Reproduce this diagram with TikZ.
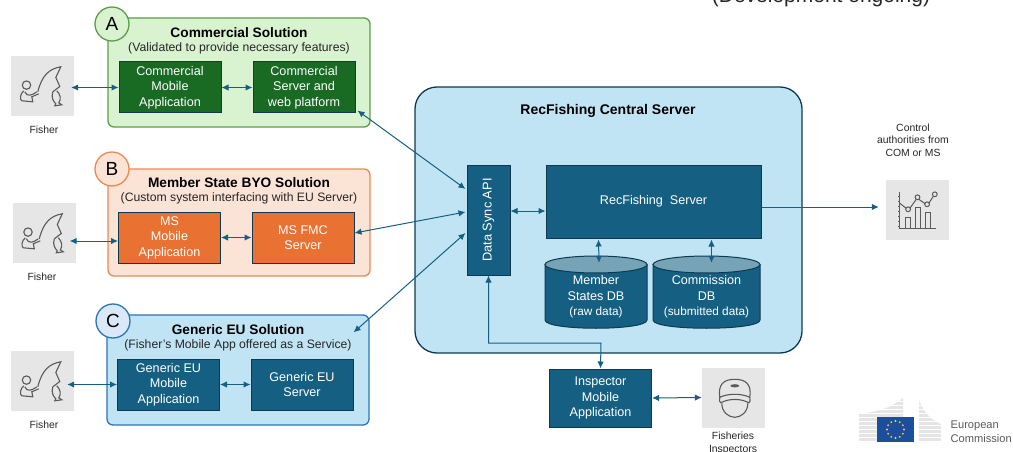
\documentclass[tikz,border=0pt]{standalone}
\usepackage{fontspec}
\setmainfont{Liberation Sans}
\usetikzlibrary{arrows.meta}

\definecolor{teal}{HTML}{156082}
\definecolor{navy}{HTML}{0E3A50}
\definecolor{leaf}{HTML}{196B24}
\definecolor{leafpale}{HTML}{D9F2D0}
\definecolor{leafline}{HTML}{5C9E4A}
\definecolor{rust}{HTML}{E97132}
\definecolor{rustpale}{HTML}{FBE3D6}
\definecolor{rustline}{HTML}{E98A55}
\definecolor{skypale}{HTML}{C1E4F5}
\definecolor{skyline}{HTML}{2E75B6}
\definecolor{skycircle}{HTML}{DAE8F7}
\definecolor{iconbg}{HTML}{E6E6E6}
\definecolor{iconink}{HTML}{5A5A5A}
\definecolor{inktext}{HTML}{262626}
\definecolor{flagblue}{HTML}{1B4F9C}
\definecolor{flagstar}{HTML}{F5D90A}

\tikzset{
  solution/.style={rounded corners=6pt,line width=1.3pt,minimum width=262pt,minimum height=#1},
  appbox/.style={draw=navy,fill=teal,line width=1pt,text=white,align=center,minimum width=102pt,minimum height=51pt,inner sep=0pt,font=\fontsize{12.6}{15.5}\selectfont},
  badge/.style={circle,line width=1.3pt,minimum size=34pt,inner sep=0pt,font=\fontsize{19}{19}\selectfont},
  title/.style={text=black,font=\fontsize{13.7}{16}\selectfont\bfseries},
  subtitle/.style={text=inktext,font=\fontsize{12.2}{14}\selectfont},
  caption/.style={text=inktext,align=center,font=\fontsize{10.4}{12.4}\selectfont},
  iconbox/.style={fill=iconbg,minimum width=63pt,minimum height=60pt,inner sep=0pt},
  drum/.style={draw=navy,line width=1pt},
  storetext/.style={text=white,align=center,inner sep=0pt,minimum width=102pt,minimum height=62pt,font=\fontsize{12.6}{15.5}\selectfont},
  flow/.style={<->,>={Latex[length=7pt,width=6.5pt]},draw=teal,line width=1pt},
  fisher/.pic={
    \draw[iconink,line width=1.1pt] (15.7,29.3) circle (4.2);
    \draw[iconink,line width=1.1pt] (13,35) .. controls (9,38) and (9,44) .. (11,45) -- (22,46) -- (21,41) -- (28,38);
    \draw[iconink,line width=1.1pt] (14,36) .. controls (16,41) and (21,40) .. (26,36);
    \draw[iconink,line width=1.1pt] (27,36) .. controls (31,20) and (38,13) .. (50,11) -- (45,21.7) -- (49,30.7) -- (42,36);
    \draw[iconink,line width=1.1pt] (42,36) .. controls (40,42) and (43,46) .. (45,48) -- (44,50) -- (51,49) -- (48,47) .. controls (51,43) and (49,38) .. (46,35);
  },
  cap/.pic={
    \draw[iconink,line width=1.1pt] (18,30) .. controls (16,17) and (22,12) .. (33,12) .. controls (44,12) and (50,17) .. (48,30) .. controls (40,26) and (26,26) .. (18,30) -- cycle;
    \draw[iconink,line width=1.1pt] (18,30) .. controls (17,33) and (18,35) .. (19,35.5) .. controls (27,31) and (39,31) .. (47,35.5) .. controls (48,35) and (49,33) .. (48,30);
    \draw[iconink,line width=1.1pt] (20,36) .. controls (20,45) and (27,50) .. (33,50) .. controls (39,50) and (46,45) .. (46,36);
    \fill[iconink] (33,18.5) ellipse (4.5 and 1.6);
  },
  chart/.pic={
    \draw[iconink,line width=1pt] (14,13) -- (14,49) -- (50.5,49);
    \foreach \ty in {17,22,27,32,37,42,47} {\draw[iconink,line width=.7pt] (12.5,\ty) -- (14,\ty);}
    \draw[iconink,line width=1pt] (19.5,49) -- (19.5,38) -- (25,38) -- (25,49);
    \draw[iconink,line width=1pt] (29.5,49) -- (29.5,28) -- (35,28) -- (35,49);
    \draw[iconink,line width=1pt] (39.5,49) -- (39.5,33) -- (45,33) -- (45,49);
    \draw[iconink,line width=1pt] (14,24) -- (20.5,29) (24,29) -- (30.5,20) (33,20) -- (39.5,24.5) (43,24) -- (47.5,17);
    \foreach \tx/\ty in {22.3/30,31.7/18,41.3/25,49/15} {\draw[iconink,line width=1pt] (\tx,\ty) circle (2.4);}
  }
}

\begin{document}
\begin{tikzpicture}[x=1pt,y=-1pt]
  \useasboundingbox (0,0) rectangle (1013,452);

  \node[anchor=base,inner sep=0pt,text=inktext,font=\fontsize{21}{23}\selectfont] (note) at (821,3) {(Development ongoing)};

  % solution A
  \node[solution=109pt,draw=leafline,fill=leafpale] (boxA) at (239,72.5) {};
  \node[badge,draw=leafline,fill=leafpale] (badgeA) at (112,24) {A};
  \node[title] (titleA) at (239,32.5) {Commercial Solution};
  \node[subtitle] (subA) at (239,48) {(Validated to provide necessary features)};
  \node[appbox,fill=leaf] (mobileA) at (170,87.5) {Commercial\\Mobile\\Application};
  \node[appbox,fill=leaf] (serverA) at (304,87.5) {Commercial\\Server and\\web platform};
  \node[iconbox] (fisherA) at (42.5,86) {};
  \pic at (fisherA.north west) {fisher};
  \node[caption] (labelA) at (44,130) {Fisher};

  % solution B
  \node[solution=107pt,draw=rustline,fill=rustpale] (boxB) at (239,222.5) {};
  \node[badge,draw=rustline,fill=rustpale] (badgeB) at (112,169) {B};
  \node[title] (titleB) at (239,182.5) {Member State BYO Solution};
  \node[subtitle] (subB) at (239,198) {(Custom system interfacing with EU Server)};
  \node[appbox,fill=rust] (mobileB) at (169.5,237.5) {MS\\Mobile\\Application};
  \node[appbox,fill=rust] (serverB) at (303,237.5) {MS FMC\\Server};
  \node[iconbox] (fisherB) at (44,233) {};
  \pic at (fisherB.north west) {fisher};
  \node[caption] (labelB) at (42,277) {Fisher};

  % solution C
  \node[solution=110pt,draw=skyline,fill=skypale] (boxC) at (238,370) {};
  \node[badge,draw=skyline,fill=skycircle] (badgeC) at (113,321) {C};
  \node[title] (titleC) at (238,330) {Generic EU Solution};
  \node[subtitle] (subC) at (238,345.5) {(Fisher's Mobile App offered as a Service)};
  \node[appbox] (mobileC) at (168.5,384.5) {Generic EU\\Mobile\\Application};
  \node[appbox] (serverC) at (302,384.5) {Generic EU\\Server};
  \node[iconbox] (fisherC) at (42.5,381) {};
  \pic at (fisherC.north west) {fisher};
  \node[caption] (labelC) at (44,425) {Fisher};

  % central server
  \node[draw=navy,fill=skypale,line width=1.3pt,rounded corners=22pt,minimum width=387pt,minimum height=266pt] (central) at (608.5,220) {};
  \node[title,font=\fontsize{14}{16}\selectfont\bfseries] (centraltitle) at (608,111) {RecFishing Central Server};
  \node[appbox,minimum width=43pt,minimum height=110pt] (syncapi) at (488.5,220) {};
  \node[text=white,rotate=90,font=\fontsize{12.8}{15}\selectfont] (syncapilabel) at (syncapi) {Data Sync API};
  \node[appbox,minimum width=215pt,minimum height=73pt] (recserver) at (653.5,201.5) {RecFishing\ \ Server};

  % the two databases
  \foreach \cx/\hw in {596/51,706.5/53.5} {
    \draw[drum,fill=teal] (\cx-\hw,264.5) -- (\cx-\hw,320) .. controls (\cx-\hw,331) and (\cx+\hw,331) .. (\cx+\hw,320) -- (\cx+\hw,264.5) -- cycle;
    \draw[drum,fill=teal!58!white] (\cx,264.5) ellipse ({\hw} and 8.5);
  }
  \node[storetext] (dbmember) at (596,297) {Member\\States DB\\{\fontsize{11.8}{13}\selectfont (raw data)}};
  \node[storetext,minimum width=107pt] (dbcommission) at (706.5,297) {Commission\\DB\\{\fontsize{11.8}{13}\selectfont (submitted data)}};

  % inspector and authorities
  \node[appbox,minimum height=58pt] (inspector) at (600.5,398) {Inspector\\Mobile\\Application};
  \node[iconbox] (inspectoricon) at (733.5,397.5) {};
  \pic at (inspectoricon.north west) {cap};
  \node[caption] (inspectorlabel) at (733,443.5) {Fisheries\\Inspectors};
  \node[iconbox] (authority) at (917.5,209.5) {};
  \pic at (authority.north west) {chart};
  \node[caption] (authoritylabel) at (913,140) {Control\\authorities from\\COM or MS};

  % connectors
  \draw[flow] ([shift={(-3,1.5)}]fisherA.east) -- (mobileA.west);
  \draw[flow] (mobileA.east) -- (serverA.west);
  \draw[flow] ([shift={(-6,8)}]fisherB.east) -- ([shift={(0,3.5)}]mobileB.west);
  \draw[flow] (mobileB.east) -- (serverB.west);
  \draw[flow] ([shift={(-7,3.5)}]fisherC.east) -- (mobileC.west);
  \draw[flow] (mobileC.east) -- (serverC.west);
  \draw[flow] ([shift={(2,-3)}]serverA.south east) -- ([shift={(-1,-31)}]syncapi.west);
  \draw[flow] ([shift={(0,-4.5)}]serverB.east) -- ([shift={(-1,-8)}]syncapi.west);
  \draw[flow] ([shift={(-16,18)}]boxC.north east) -- ([shift={(-1,13)}]syncapi.west);
  \draw[flow] ([shift={(0,-9)}]syncapi.east) -- ([shift={(0,9.5)}]recserver.west);
  \draw[flow] ([shift={(53,1)}]recserver.south west) -- ([shift={(3,-3)}]dbmember.north);
  \draw[flow] ([shift={(166,1)}]recserver.south west) -- ([shift={(5,-3)}]dbcommission.north);
  \coordinate (bend) at (601,343);
  \draw[flow] (syncapi.south) |- (bend) -- (inspector.north);
  \draw[flow] (inspector.east) -- (inspectoricon.west);
  \draw[flow,<-] ([shift={(-7,-2.5)}]authority.west) -- ([shift={(0,5.5)}]recserver.east);

  % logo
  \fill[black!10] (859,414) .. controls (875,412) and (892,408) .. (903,398) -- (903,417) -- (877,417) -- (877,442) -- (859,442) -- cycle;
  \fill[black!10] (919,399) .. controls (922,410) and (930,420) .. (941,424) -- (941,442) -- (919,442) -- cycle;
  \foreach \ty in {401,405,...,441} {\draw[white,line width=.5pt] (859,\ty) -- (941,\ty);}
  \node[fill=flagblue,minimum width=37pt,minimum height=25pt,inner sep=0pt] (flag) at (895.5,429.5) {};
  \foreach \ang in {0,30,...,330} {\fill[flagstar] (flag) ++(\ang:8.5) circle (1.1);}
  \node[anchor=west,inner sep=0pt,text=black!65,align=left,font=\fontsize{11.1}{13.5}\selectfont] (logotext) at (950.5,431.5) {European\\Commission};
\end{tikzpicture}
\end{document}
